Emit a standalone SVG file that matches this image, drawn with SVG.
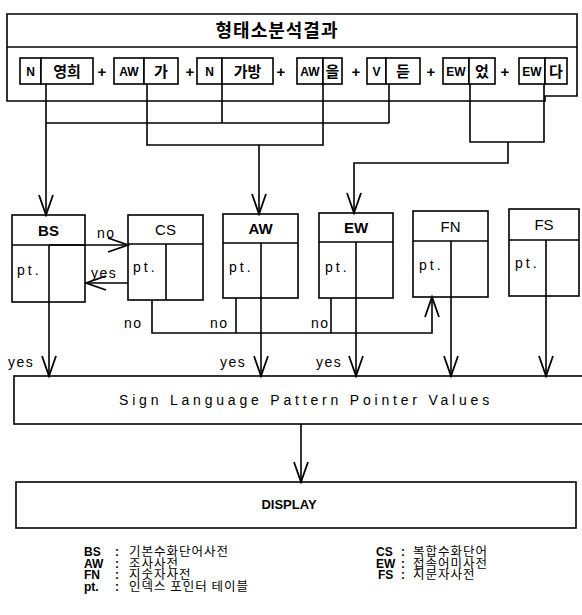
<svg xmlns="http://www.w3.org/2000/svg" width="582" height="615" viewBox="0 0 582 615">
<style>
.ln{stroke:#000;stroke-width:1.6;fill:none}
.bx{fill:#fff;stroke:#000;stroke-width:1.6}
.t{font-family:'Liberation Sans','Noto Sans CJK KR',sans-serif;fill:#000}
.k{font-family:'Noto Sans CJK KR','Liberation Sans',sans-serif;fill:#000}
.tag{font-family:'Liberation Sans',sans-serif;font-weight:bold;font-size:12px;text-anchor:middle;fill:#000}
.wd{font-family:'Noto Sans CJK KR',sans-serif;font-weight:bold;font-size:15px;text-anchor:middle;fill:#000}
.pl{font-family:'Liberation Sans',sans-serif;font-weight:bold;font-size:15px;text-anchor:middle;fill:#000}
.hd{font-family:'Liberation Sans',sans-serif;font-size:15px;text-anchor:middle;fill:#000}
.pt{font-family:'Liberation Sans',sans-serif;font-size:14px;letter-spacing:3px;fill:#000}
.lb{font-family:'Liberation Sans',sans-serif;font-size:14px;letter-spacing:1.5px;fill:#000}
.lg{font-family:'Liberation Sans','Noto Sans CJK KR',sans-serif;font-weight:bold;font-size:12px;fill:#000}
.lk{font-family:'Noto Sans CJK KR',sans-serif;font-weight:normal;font-size:12.5px;letter-spacing:1px}
</style>
<defs>
<marker id="v" viewBox="-21 -8 23 16" refX="0" refY="0" markerWidth="23" markerHeight="16" markerUnits="userSpaceOnUse" orient="auto">
<path d="M-20,-7 L0,0 L-20,7" fill="none" stroke="#000" stroke-width="1.8"/>
</marker>
</defs>
<rect x="0" y="0" width="582" height="615" fill="#fff"/>

<g id="morph-result">
<path class="bx" d="M7,14 H577 V96 H545 V101 H7 Z"/>
<line class="ln" x1="7" y1="47" x2="577" y2="47"/>
<text class="k" x="277" y="37" font-size="18" font-weight="bold" text-anchor="middle" letter-spacing="1">형태소분석결과</text>
</g>

<g id="tok1">
<rect class="bx" x="20" y="58" width="21" height="26"/><rect class="bx" x="41" y="58" width="52" height="26"/>
<text class="tag" x="30.5" y="76">N</text><text class="wd" x="67" y="77">영희</text>
</g>
<text class="pl" x="102" y="77">+</text>
<g id="tok2">
<rect class="bx" x="114" y="58" width="30" height="26"/><rect class="bx" x="144" y="58" width="34" height="26"/>
<text class="tag" x="129" y="76">AW</text><text class="wd" x="161" y="77">가</text>
</g>
<text class="pl" x="190" y="77">+</text>
<g id="tok3">
<rect class="bx" x="197" y="58" width="25" height="26"/><rect class="bx" x="222" y="58" width="51" height="26"/>
<text class="tag" x="209.5" y="76">N</text><text class="wd" x="247.5" y="77">가방</text>
</g>
<text class="pl" x="281" y="77" font-weight="normal">+</text>
<g id="tok4">
<rect class="bx" x="297" y="58" width="26" height="26"/><rect class="bx" x="323" y="58" width="19" height="26"/>
<text class="tag" x="310" y="76">AW</text><text class="wd" x="332.5" y="77">을</text>
</g>
<text class="pl" x="356" y="77">+</text>
<g id="tok5">
<rect class="bx" x="367" y="58" width="19" height="26"/><rect class="bx" x="386" y="58" width="34" height="26"/>
<text class="tag" x="376.5" y="76">V</text><text class="wd" x="403" y="77">듣</text>
</g>
<text class="pl" x="431" y="77">+</text>
<g id="tok6">
<rect class="bx" x="443" y="58" width="26" height="26"/><rect class="bx" x="469" y="58" width="26" height="26"/>
<text class="tag" x="456" y="76" font-weight="normal">EW</text><text class="wd" x="482" y="77">었</text>
</g>
<text class="pl" x="505" y="77">+</text>
<g id="tok7">
<rect class="bx" x="519" y="58" width="26" height="26"/><rect class="bx" x="545" y="58" width="22" height="26"/>
<text class="tag" x="532" y="76" font-weight="normal">EW</text><text class="wd" x="556" y="77">다</text>
</g>

<g id="BS">
<rect class="bx" x="12" y="215" width="73" height="87"/>
<line class="ln" x1="12" y1="245" x2="85" y2="245"/><line class="ln" x1="49" y1="245" x2="49" y2="302"/>
<text class="hd" x="48.5" y="236" font-weight="bold">BS</text><text class="pt" x="17" y="275">pt.</text>
</g>
<g id="CS">
<rect class="bx" x="128" y="215" width="75" height="85"/>
<line class="ln" x1="128" y1="244" x2="203" y2="244"/><line class="ln" x1="166" y1="244" x2="166" y2="300"/>
<text class="hd" x="165.5" y="235">CS</text><text class="pt" x="133" y="272">pt.</text>
</g>
<g id="AW">
<rect class="bx" x="223" y="214" width="75" height="84"/>
<line class="ln" x1="223" y1="243" x2="298" y2="243"/><line class="ln" x1="261" y1="243" x2="261" y2="298"/>
<text class="hd" x="260.5" y="234" font-weight="bold" font-size="14">AW</text><text class="pt" x="229" y="272">pt.</text>
</g>
<g id="EW">
<rect class="bx" x="319" y="213" width="74" height="85"/>
<line class="ln" x1="319" y1="242" x2="393" y2="242"/><line class="ln" x1="356" y1="242" x2="356" y2="298"/>
<text class="hd" x="356" y="233" font-weight="bold" font-size="14">EW</text><text class="pt" x="325" y="272">pt.</text>
</g>
<g id="FN">
<rect class="bx" x="413" y="211" width="75" height="86"/>
<line class="ln" x1="413" y1="241" x2="488" y2="241"/><line class="ln" x1="451" y1="241" x2="451" y2="297"/>
<text class="hd" x="450.5" y="232">FN</text><text class="pt" x="419" y="270">pt.</text>
</g>
<g id="FS">
<rect class="bx" x="509" y="209" width="70" height="87"/>
<line class="ln" x1="509" y1="240" x2="579" y2="240"/><line class="ln" x1="546" y1="240" x2="546" y2="296"/>
<text class="hd" x="544" y="230">FS</text><text class="pt" x="515" y="268">pt.</text>
</g>

<g id="sign-values">
<rect class="bx" x="14" y="376" width="590" height="48"/>
<text class="t" x="306" y="405" font-size="14" letter-spacing="3.8" text-anchor="middle">Sign Language Pattern Pointer Values</text>
</g>
<g id="display">
<rect class="bx" x="16" y="482" width="560" height="46"/>
<text class="t" x="289" y="509" font-size="13" font-weight="bold" text-anchor="middle">DISPLAY</text>
</g>

<g id="connectors">
<line class="ln" x1="46" y1="84" x2="46" y2="215" marker-end="url(#v)"/>
<polyline class="ln" points="147,84 147,145 323,145 323,84"/>
<line class="ln" x1="222" y1="84" x2="222" y2="123" stroke-width="2.4"/>
<line class="ln" x1="389" y1="84" x2="389" y2="123"/>
<line class="ln" x1="46" y1="123" x2="389" y2="123"/>
<line class="ln" x1="259" y1="145" x2="259" y2="214" marker-end="url(#v)"/>
<polyline class="ln" points="470,84 470,142 544,142 544,84"/>
<polyline class="ln" points="508,142 508,163 354,163 354,213" marker-end="url(#v)"/>
<line class="ln" x1="49" y1="245" x2="128" y2="245" marker-end="url(#v)"/>
<line class="ln" x1="128" y1="283" x2="86" y2="283" marker-end="url(#v)"/>
<polyline class="ln" points="152,300 152,333 432,333 432,297" marker-end="url(#v)"/>
<line class="ln" x1="236" y1="298" x2="236" y2="333"/>
<line class="ln" x1="331" y1="298" x2="331" y2="333"/>
<line class="ln" x1="49" y1="302" x2="49" y2="376" marker-end="url(#v)"/>
<line class="ln" x1="261" y1="298" x2="261" y2="376" marker-end="url(#v)"/>
<line class="ln" x1="356" y1="298" x2="356" y2="376" marker-end="url(#v)"/>
<line class="ln" x1="451" y1="297" x2="451" y2="376" marker-end="url(#v)"/>
<line class="ln" x1="546" y1="296" x2="546" y2="376" marker-end="url(#v)"/>
<line class="ln" x1="301" y1="424" x2="301" y2="482" marker-end="url(#v)"/>
<text class="lb" x="97" y="238">no</text>
<text class="lb" x="91" y="278">yes</text>
<text class="lb" x="124" y="328">no</text>
<text class="lb" x="210" y="328">no</text>
<text class="lb" x="311" y="328">no</text>
<text class="lb" x="8" y="367">yes</text>
<text class="lb" x="220" y="367">yes</text>
<text class="lb" x="316" y="367">yes</text>
</g>

<g id="legend">
<text class="lg" y="556"><tspan x="84">BS</tspan><tspan x="115">:</tspan><tspan class="lk" x="129">기본수화단어사전</tspan><tspan x="376">CS</tspan><tspan x="401">:</tspan><tspan class="lk" x="413">복합수화단어</tspan></text>
<text class="lg" y="567.5"><tspan x="84">AW</tspan><tspan x="115">:</tspan><tspan class="lk" x="129">조사사전</tspan><tspan x="376">EW</tspan><tspan x="401">:</tspan><tspan class="lk" x="413">접속어미사전</tspan></text>
<text class="lg" y="579"><tspan x="84">FN</tspan><tspan x="115">:</tspan><tspan class="lk" x="129">지숫자사전</tspan><tspan x="378">FS</tspan><tspan x="401">:</tspan><tspan class="lk" x="413">지문자사전</tspan></text>
<text class="lg" y="591"><tspan x="84">pt.</tspan><tspan x="115">:</tspan><tspan class="lk" x="129" letter-spacing="6">인덱스 포인터 테이블</tspan></text>
</g>
</svg>
